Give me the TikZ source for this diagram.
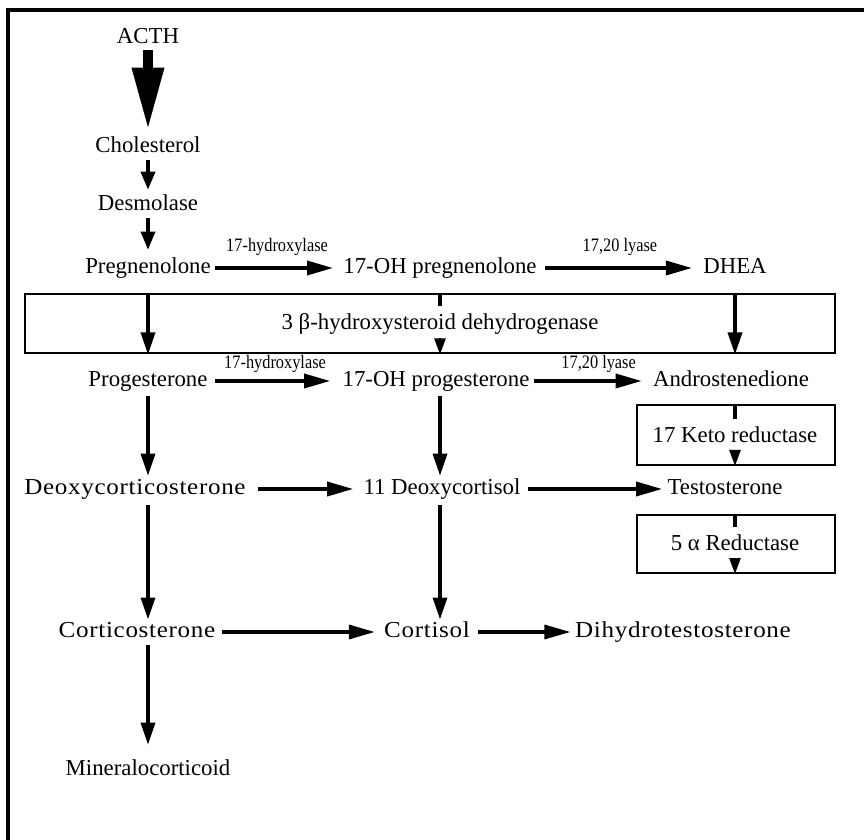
\documentclass[tikz,border=0pt]{standalone}
\usepackage{fontspec}
\setmainfont{Liberation Serif}
\newfontfamily\widefont[FakeStretch=1.1,LetterSpace=3]{Liberation Serif}
\usetikzlibrary{arrows.meta}
\begin{document}
\begin{tikzpicture}[x=0.5pt,y=-0.5pt,
  txt/.style={font=\fontsize{11.4}{13}\selectfont, inner sep=0pt, text height=7.5pt, text depth=2.2pt},
  wtxt/.style={txt, font=\fontsize{11.4}{13}\selectfont\widefont},
  enz/.style={font=\fontsize{9.5}{11}\selectfont, inner sep=1pt, above, xscale=0.86, yshift=4.5pt},
  enzlow/.style={enz, yshift=-2.3pt},
  harr/.style={line width=1.7pt, -{Triangle[length=13pt,width=7pt]}},
  varr/.style={line width=1.7pt, -{Triangle[length=11pt,width=7pt]}},
  sarr/.style={line width=1.7pt, -{Triangle[length=9pt,width=7pt]}},
  stub/.style={line width=1.7pt},
  shead/.style={line width=1.2pt, -{Triangle[length=8pt,width=5.5pt]}},
  ebox/.style={draw, line width=1pt, inner sep=0pt},
  frame/.style={line width=1.8pt}
]
\useasboundingbox (0,0) rectangle (864,840);
% frame
\draw[frame] (8,840) -- (8,10) -- (864,10);

% text nodes
\node[txt] (acth)    at (148,38)  {ACTH};
\node[txt] (chol)    at (148,147) {Cholesterol};
\node[txt] (desm)    at (148,205) {Desmolase};
\node[txt] (preg)    at (148,268) {Pregnenolone};
\node[txt] (ohpreg)  at (440,268) {17-OH pregnenolone};
\node[txt] (dhea)    at (735,268) {DHEA};
\node[txt] (prog)    at (148,381) {Progesterone};
\node[txt] (ohprog)  at (436,381) {17-OH progesterone};
\node[txt] (andro)   at (731,381) {Androstenedione};
\node[wtxt] (deoxy)  at (135,489) {Deoxycorticosterone};
\node[txt] (ddc)     at (442,489) {11 Deoxycortisol};
\node[txt] (testo)   at (725,489) {Testosterone};
\node[wtxt] (cortico) at (137,632) {Corticosterone};
\node[wtxt] (cortisol) at (427,632) {Cortisol};
\node[wtxt] (dht)    at (683,632) {Dihydrotestosterone};
\node[txt] (mineral) at (148,770) {Mineralocorticoid};
\coordinate (midx) at (440,0);
\coordinate (rgtx) at (735,0);

% enzyme boxes
\node[ebox, minimum width=405pt, minimum height=29.5pt] (hsd) at (430,324) {};
\node[txt] (hsdt) at (440,324) {3 β-hydroxysteroid dehydrogenase};
\node[ebox, minimum width=99pt, minimum height=30pt] (keto) at (736,435) {};
\node[txt] (ketot) at (735,437) {17 Keto reductase};
\node[ebox, minimum width=99pt, minimum height=29pt] (red) at (736,544) {};
\node[txt] (redt) at (735,545) {5 α Reductase};

% big ACTH arrow
\draw[line width=4.8pt, -{Triangle[length=31pt,width=15pt]}, shorten <=1.2pt, shorten >=3.6pt] (acth) -- (chol);
% small top arrows
\draw[sarr, shorten <=1.6pt, shorten >=2.6pt] (chol) -- (desm);
\draw[sarr, shorten <=1.6pt, shorten >=4.1pt] (desm) -- (preg);

% horizontal arrows with enzyme labels
\draw[harr, shorten <=2.1pt, shorten >=5pt] (preg) -- node[enz] {17-hydroxylase} (ohpreg);
\draw[harr, shorten <=4.2pt, shorten >=5.5pt] (ohpreg) -- node[enz] {17,20 lyase} (dhea);
\draw[harr, shorten <=3.7pt, shorten >=6pt] (prog) -- node[enzlow] {17-hydroxylase} (ohprog);
\draw[harr, shorten <=2pt, shorten >=5.5pt] (ohprog) -- node[enzlow, pos=0.56] {17,20 lyase} (andro);
\draw[harr, shorten <=6pt, shorten >=5pt] (deoxy) -- (ddc);
\draw[harr, shorten <=3.5pt, shorten >=2.5pt] (ddc) -- (testo);
\draw[harr, shorten <=3pt, shorten >=4.5pt] (cortico) -- (cortisol);
\draw[harr, shorten <=4pt, shorten >=2.2pt] (cortisol) -- (dht);

% arrows through 3 beta-HSD box
\draw[varr] (hsd.north -| preg) -- (hsd.south -| preg);
\draw[varr] (hsd.north -| rgtx) -- (hsd.south -| rgtx);
\draw[stub] (hsd.north -| midx) -- ++(0,13);
\draw[shead] (hsd.south -| midx) ++(0,-16) -- (hsd.south -| midx);

% 17 keto reductase
\draw[stub] (keto.north -| rgtx) -- ++(0,15);
\draw[shead] (keto.south -| rgtx) ++(0,-16) -- (keto.south -| rgtx);
% 5 alpha reductase
\draw[stub] (red.north -| rgtx) -- ++(0,13);
\draw[shead] (red.south -| rgtx) ++(0,-16) -- (red.south -| rgtx);

% vertical arrows
\draw[varr, shorten <=2.6pt, shorten >=1.6pt] (prog.south -| preg) -- (deoxy.north -| preg);
\draw[varr, shorten <=2.6pt, shorten >=1.6pt] (ohprog.south -| midx) -- (ddc.north -| midx);
\draw[varr, shorten <=3.1pt, shorten >=1.2pt] (deoxy.south -| preg) -- (cortico.north -| preg);
\draw[varr, shorten <=3.1pt, shorten >=1.2pt] (ddc.south -| midx) -- (cortisol.north -| midx);
\draw[varr, shorten <=1.6pt, shorten >=7.6pt] (cortico.south -| preg) -- (mineral);
\end{tikzpicture}
\end{document}
